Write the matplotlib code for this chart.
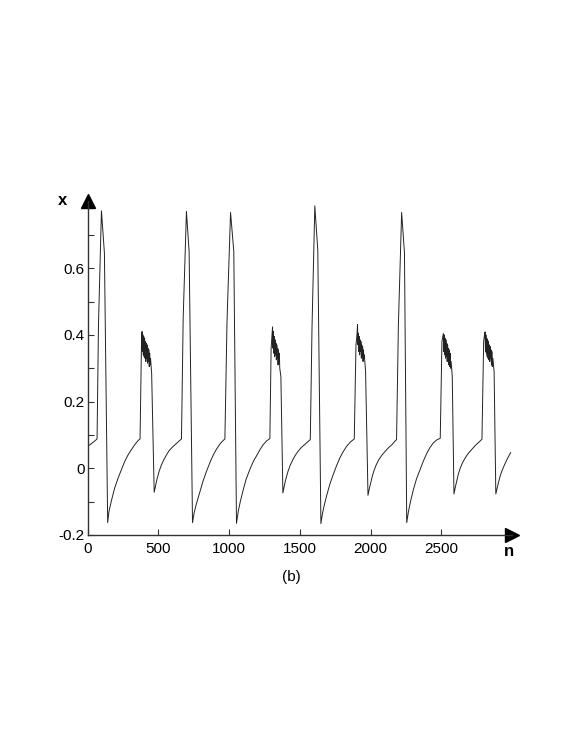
import matplotlib
matplotlib.use("Agg")
import matplotlib.pyplot as plt
from matplotlib.ticker import FixedLocator

plt.rcParams["font.family"] = ["Liberation Sans", "DejaVu Sans"]
plt.rcParams["font.size"] = 11

# series, piece by piece (n, x)
start_n = [0, 20, 45, 66]
start_x = [0.066, 0.072, 0.080, 0.088]

big1_n = [76, 97, 118, 141]
big1_x = [0.43, 0.772, 0.645, -0.163]
rec1_n = [150, 167, 190, 215, 240, 262, 285, 309, 333, 356, 370]
rec1_x = [-0.130, -0.098, -0.060, -0.029, -0.002, 0.021, 0.040, 0.056, 0.071, 0.083, 0.088]

small1_n = [380, 384, 387, 390, 393, 396, 399, 402, 405, 408, 411, 414, 417, 420, 423,
            426, 429, 432, 435, 438, 441, 444, 452, 470]
small1_x = [0.37, 0.41, 0.35, 0.40, 0.34, 0.395, 0.335, 0.39, 0.33, 0.38, 0.32, 0.375,
            0.33, 0.37, 0.315, 0.36, 0.32, 0.355, 0.305, 0.345, 0.31, 0.33, 0.285, -0.072]
rec2_n = [480, 490, 505, 522, 541, 558, 576, 600, 624, 645, 663]
rec2_x = [-0.052, -0.032, -0.009, 0.011, 0.028, 0.041, 0.053, 0.064, 0.073, 0.081, 0.088]

big2_n = [675, 698, 717, 741]
big2_x = [0.45, 0.770, 0.65, -0.163]
rec3_n = [752, 765, 780, 795, 815, 840, 865, 887, 910, 934, 955, 970]
rec3_x = [-0.135, -0.112, -0.090, -0.068, -0.039, -0.009, 0.018, 0.039, 0.057, 0.072, 0.082, 0.088]

big3_n = [985, 1010, 1033, 1052]
big3_x = [0.44, 0.767, 0.65, -0.165]
rec4_n = [1065, 1080, 1100, 1120, 1146, 1172, 1199, 1220, 1241, 1265, 1288]
rec4_x = [-0.128, -0.098, -0.064, -0.033, -0.004, 0.021, 0.041, 0.057, 0.071, 0.082, 0.089]

small2_n = [1297, 1303, 1307, 1310, 1313, 1316, 1319, 1322, 1325, 1328, 1331, 1334, 1337,
            1340, 1343, 1346, 1349, 1352, 1355, 1358, 1366, 1380]
small2_x = [0.36, 0.40, 0.424, 0.36, 0.41, 0.345, 0.395, 0.335, 0.385, 0.34, 0.375, 0.325,
            0.37, 0.33, 0.36, 0.31, 0.355, 0.315, 0.345, 0.30, 0.275, -0.074]
rec5_n = [1388, 1397, 1415, 1432, 1451, 1468, 1486, 1510, 1534, 1555, 1574]
rec5_x = [-0.057, -0.039, -0.011, 0.009, 0.026, 0.039, 0.050, 0.062, 0.071, 0.079, 0.086]

big4_n = [1586, 1606, 1627, 1649]
big4_x = [0.42, 0.787, 0.653, -0.166]
rec6_n = [1660, 1672, 1689, 1712, 1736, 1760, 1783, 1807, 1831, 1858, 1885]
rec6_x = [-0.136, -0.112, -0.083, -0.048, -0.019, 0.008, 0.031, 0.050, 0.066, 0.079, 0.088]

small3_n = [1897, 1904, 1908, 1911, 1914, 1917, 1920, 1923, 1926, 1929, 1932, 1935, 1938,
            1941, 1944, 1947, 1950, 1953, 1956, 1965, 1982]
small3_x = [0.37, 0.40, 0.431, 0.37, 0.405, 0.35, 0.395, 0.34, 0.385, 0.35, 0.38, 0.33,
            0.37, 0.335, 0.365, 0.32, 0.355, 0.33, 0.34, 0.29, -0.081]
rec7_n = [1990, 1998, 2010, 2022, 2040, 2057, 2080, 2104, 2128, 2152, 2170, 2184]
rec7_x = [-0.064, -0.049, -0.028, -0.010, 0.010, 0.025, 0.039, 0.051, 0.062, 0.071, 0.080, 0.086]

big5_n = [2197, 2220, 2240, 2256]
big5_x = [0.43, 0.767, 0.645, -0.163]
rec8_n = [2268, 2283, 2303, 2325, 2350, 2374, 2397, 2420, 2444, 2468, 2493]
rec8_x = [-0.130, -0.099, -0.064, -0.032, -0.004, 0.022, 0.044, 0.062, 0.076, 0.085, 0.090]

small4_n = [2505, 2511, 2515, 2518, 2521, 2524, 2527, 2530, 2533, 2536, 2539, 2542, 2545,
            2548, 2551, 2554, 2557, 2560, 2563, 2566, 2570, 2578, 2590]
small4_x = [0.38, 0.395, 0.404, 0.35, 0.40, 0.34, 0.39, 0.33, 0.385, 0.335, 0.375, 0.32,
            0.37, 0.325, 0.36, 0.31, 0.355, 0.305, 0.345, 0.30, 0.32, 0.275, -0.077]
rec9_n = [2599, 2609, 2620, 2633, 2650, 2668, 2690, 2715, 2740, 2765, 2788]
rec9_x = [-0.058, -0.039, -0.019, -0.001, 0.016, 0.030, 0.044, 0.056, 0.068, 0.078, 0.087]

small5_n = [2800, 2806, 2810, 2813, 2816, 2819, 2822, 2825, 2828, 2831, 2834, 2837, 2840,
            2843, 2846, 2849, 2852, 2855, 2858, 2861, 2865, 2874, 2886]
small5_x = [0.38, 0.40, 0.409, 0.35, 0.40, 0.345, 0.39, 0.335, 0.385, 0.33, 0.38, 0.325,
            0.37, 0.32, 0.365, 0.33, 0.355, 0.31, 0.35, 0.305, 0.33, 0.29, -0.077]
rec10_n = [2895, 2904, 2915, 2928, 2945, 2963, 2978, 2991]
rec10_x = [-0.060, -0.044, -0.026, -0.009, 0.008, 0.025, 0.037, 0.047]

x_ticks = [0, 500, 1000, 1500, 2000, 2500]
y_ticks = [-0.2, 0, 0.2, 0.4, 0.6]
y_tick_labels = ["-0.2", "0", "0.2", "0.4", "0.6"]
y_minor = [-0.1, 0.1, 0.3, 0.5, 0.7]


def main() -> None:
    pieces = [
        (start_n, start_x), (big1_n, big1_x), (rec1_n, rec1_x),
        (small1_n, small1_x), (rec2_n, rec2_x), (big2_n, big2_x),
        (rec3_n, rec3_x), (big3_n, big3_x), (rec4_n, rec4_x),
        (small2_n, small2_x), (rec5_n, rec5_x), (big4_n, big4_x),
        (rec6_n, rec6_x), (small3_n, small3_x), (rec7_n, rec7_x),
        (big5_n, big5_x), (rec8_n, rec8_x), (small4_n, small4_x),
        (rec9_n, rec9_x), (small5_n, small5_x), (rec10_n, rec10_x),
    ]
    n_all, x_all = [], []
    for pn, px in pieces:
        n_all += pn
        x_all += px

    fig = plt.figure(figsize=(5.81, 7.52), dpi=100)
    ax = fig.add_axes([0.151, 0.2886, 0.7294, 0.4435])
    ax.plot(n_all, x_all, color="#222222", linewidth=0.7)

    ax.set_xlim(0, 2997)
    ax.set_ylim(-0.2, 0.8)
    for side in ("top", "right"):
        ax.spines[side].set_visible(False)
    for side in ("left", "bottom"):
        ax.spines[side].set_linewidth(1.0)
        ax.spines[side].set_color("#333333")

    ax.set_xticks(x_ticks)
    ax.set_xticklabels([str(t) for t in x_ticks])
    ax.set_yticks(y_ticks)
    ax.set_yticklabels(y_tick_labels)
    ax.yaxis.set_minor_locator(FixedLocator(y_minor))
    ax.tick_params(which="both", direction="in", length=4, width=0.8, color="#333333")
    ax.tick_params(axis="x", pad=5, labelsize=11)
    ax.tick_params(axis="y", pad=2, labelsize=11)

    # arrow heads on the axes
    ax.plot(1, 0, ">", color="black", markersize=10, transform=ax.transAxes, clip_on=False)
    ax.plot(0, 1, "^", color="black", markersize=10, transform=ax.transAxes, clip_on=False)

    ax.text(-0.0595, 1.003, "x", transform=ax.transAxes, ha="center", va="center",
            fontsize=12, fontweight="bold")
    ax.text(0.994, -0.051, "n", transform=ax.transAxes, ha="center", va="center",
            fontsize=12, fontweight="bold")
    fig.text(0.502, 0.233, "(b)", ha="center", va="center", fontsize=11)

    fig.savefig("out.png", dpi=100)


if __name__ == "__main__":
    main()
